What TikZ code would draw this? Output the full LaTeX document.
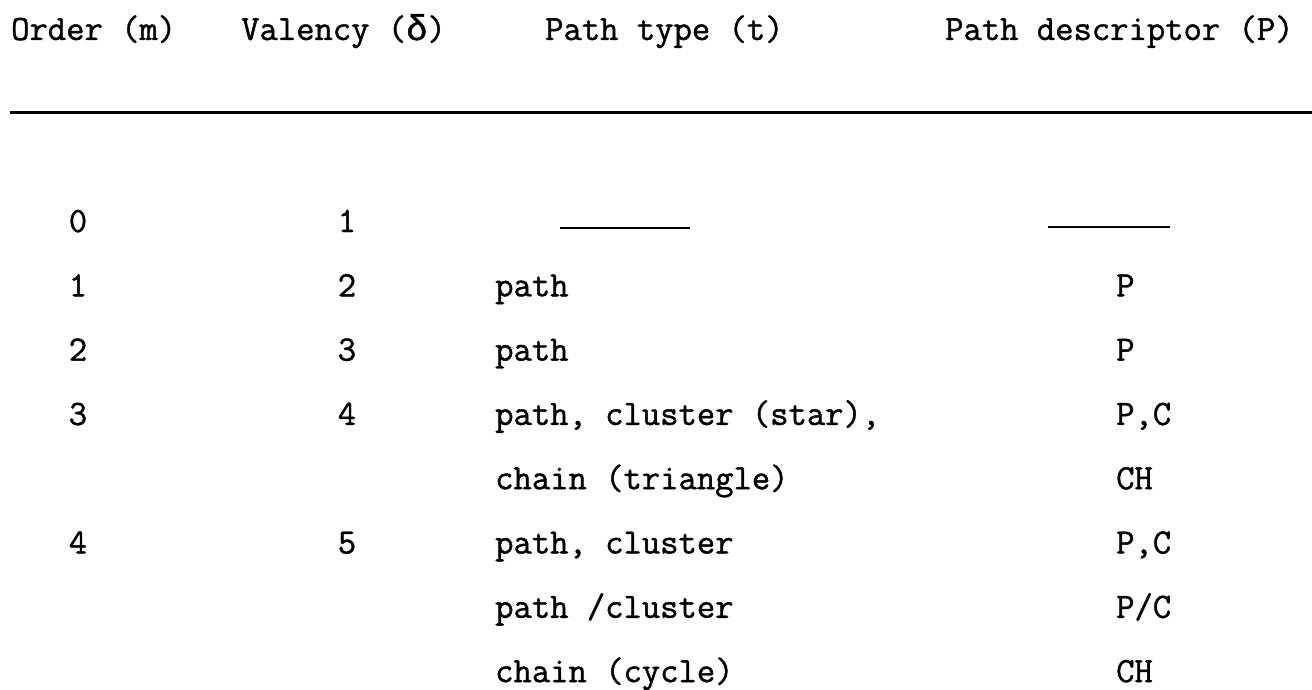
\documentclass[tikz,border=0pt]{standalone}
\usepackage{fontspec}
\newfontfamily\tabfam{Latin Modern Mono}[FakeBold=1.2]
\newfontfamily\grkfam{Liberation Mono}[FakeBold=1.2]
\newcommand\tabfont{\fontsize{35.6pt}{40pt}\selectfont\tabfam}
\tikzset{
  txt/.style={anchor=base west, inner sep=0pt, font=\tabfont},
  num/.style={anchor=base, inner sep=0pt, font=\tabfont},
  rulel/.style={line width=3pt},
  dashl/.style={line width=2.4pt},
}
\begin{document}
\begin{tikzpicture}[x=1pt,y=-1pt]
\useasboundingbox (0,0) rectangle (1312,690);
% header
\node[txt] (h1) at (11,40) {Order (m)};
\node[txt] (h2) at (241,40) {Valency ({\grkfam δ})};
\node[txt] (h3) at (545,40) {Path type (t)};
\node[txt] (h4) at (945,40) {Path descriptor (P)};
\coordinate (ra) at (10,113);
\coordinate (rb) at (1312,113);
\draw[rulel] (ra) -- (rb);
% column 1
\node[num] (m0) at (78,232) {0};
\node[num] (m1) at (78,296.3) {1};
\node[num] (m2) at (78,360.6) {2};
\node[num] (m3) at (78,424.9) {3};
\node[num] (m4) at (78,553.5) {4};
% column 2
\node[num] (d1) at (347,232) {1};
\node[num] (d2) at (347,296.3) {2};
\node[num] (d3) at (347,360.6) {3};
\node[num] (d4) at (347,424.9) {4};
\node[num] (d5) at (347,553.5) {5};
% column 3
\coordinate (t0a) at (560,228);
\coordinate (t0b) at (690,228);
\draw[dashl] (t0a) -- (t0b);
\node[txt] (t1) at (495,296.3) {path};
\node[txt] (t2) at (495,360.6) {path};
\node[txt] (t3) at (495,424.9) {path, cluster (star),};
\node[txt] (t3b) at (495,489.2) {chain (triangle)};
\node[txt] (t4) at (495,553.5) {path, cluster};
\node[txt] (t4b) at (495,617.8) {path /cluster};
\node[txt] (t4c) at (495,682.1) {chain (cycle)};
% column 4
\coordinate (p0a) at (1048,227);
\coordinate (p0b) at (1170,227);
\draw[dashl] (p0a) -- (p0b);
\node[txt] (p1) at (1116,296.3) {P};
\node[txt] (p2) at (1116,360.6) {P};
\node[txt] (p3) at (1116,424.9) {P,C};
\node[txt] (p3b) at (1116,489.2) {CH};
\node[txt] (p4) at (1116,553.5) {P,C};
\node[txt] (p4b) at (1116,617.8) {P/C};
\node[txt] (p4c) at (1116,682.1) {CH};
\end{tikzpicture}
\end{document}
